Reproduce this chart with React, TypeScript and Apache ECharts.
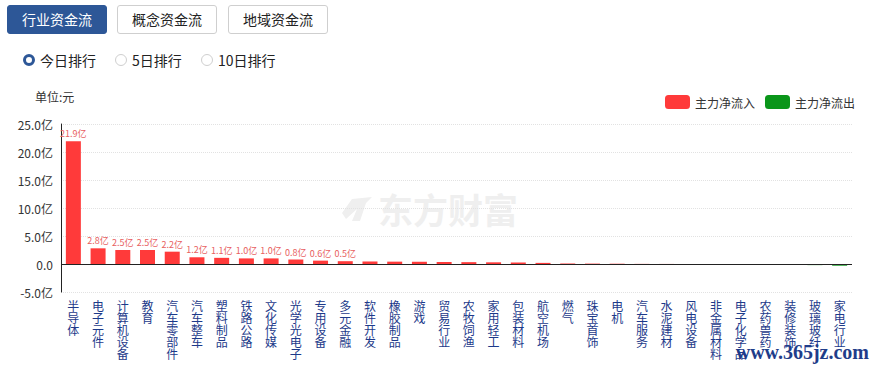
import React, { useEffect, useRef } from "react";
import * as echarts from "echarts";

const categories = [
  "半导体", "电子元件", "计算机设备", "教育", "汽车零部件", "汽车整车", "塑料制品", "铁路公路",
  "文化传媒", "光学光电子", "专用设备", "多元金融", "软件开发", "橡胶制品", "游戏", "贸易行业",
  "农牧饲渔", "家用轻工", "包装材料", "航空机场", "燃气", "珠宝首饰", "电机", "汽车服务",
  "水泥建材", "风电设备", "非金属材料", "电子化学品", "农药兽药", "装修装饰", "玻璃玻纤", "家电行业",
];
const netFlow = [
  21.9, 2.8, 2.5, 2.5, 2.2, 1.2, 1.1, 1.0, 1.0, 0.8, 0.6, 0.5, 0.45, 0.42, 0.4, 0.36,
  0.33, 0.3, 0.27, 0.2, 0.09, 0.07, 0.05, 0.02, 0.01, -0.01, -0.02, -0.05, -0.07, -0.1, -0.2, -0.3,
];
const yTicks = { min: -5, max: 25, interval: 5 };
const tabs = ["行业资金流", "概念资金流", "地域资金流"];
const ranks = ["今日排行", "5日排行", "10日排行"];
const legendNames = ["主力净流入", "主力净流出"];

const RED = "#ff3a3a";
const GREEN = "#0a961a";
const FONT = "'Noto Sans CJK SC', 'Microsoft YaHei', sans-serif";
const CHART_TOP = 80;

function Chart() {
  const ref = useRef<HTMLDivElement>(null);
  useEffect(() => {
    if (!ref.current) return;
    const chart = echarts.init(ref.current, null, { renderer: "svg" });
    const inflow = netFlow.map((v) => (v >= 0 ? v : "-"));
    const outflow = netFlow.map((v) => (v < 0 ? v : "-"));
    const wy = 195 - CHART_TOP;
    chart.setOption({
      animation: false,
      textStyle: { fontFamily: FONT },
      legend: {
        right: 16,
        top: 10,
        itemWidth: 25,
        itemHeight: 14,
        itemGap: 10,
        textStyle: { fontSize: 12, color: "#333", fontFamily: FONT },
        data: legendNames,
      },
      graphic: [
        {
          type: "text",
          left: 35,
          top: 10,
          style: { text: "单位:元", fontSize: 12, fill: "#333", fontFamily: FONT },
        },
        {
          type: "polygon",
          z: -1,
          shape: {
            points: [
              [352, wy + 4], [372, wy + 2], [366, wy + 8], [360, wy + 26], [352, wy + 26],
              [357, wy + 14], [346, wy + 24], [342, wy + 18],
            ],
          },
          style: { fill: "#efefef" },
        },
        {
          type: "text",
          x: 378,
          y: wy - 4,
          z: -1,
          style: { text: "东方财富", fontSize: 35, fontWeight: "bold", fill: "#efefef", fontFamily: FONT },
        },
        {
          type: "text",
          right: 7,
          top: 262,
          style: {
            text: "www.365jz.com",
            fontSize: 20,
            fontWeight: "bold",
            fill: "#1f3d8a",
            fontFamily: "'Liberation Serif', 'DejaVu Serif', serif",
          },
        },
      ],
      grid: { left: 61, right: 24, top: 44, bottom: 76 },
      xAxis: {
        type: "category",
        data: categories,
        axisLine: { show: false, onZero: false },
        axisTick: { show: false },
        axisLabel: {
          interval: 0,
          margin: 7,
          color: "#1d3a8a",
          fontSize: 12,
          lineHeight: 12,
          verticalAlign: "top",
          formatter: (v: string) => v.split("").join("\n"),
        },
      },
      yAxis: {
        type: "value",
        min: yTicks.min,
        max: yTicks.max,
        interval: yTicks.interval,
        axisLine: { show: true, lineStyle: { color: "#222" } },
        axisTick: { show: false },
        axisLabel: {
          color: "#333",
          fontSize: 12,
          margin: 8,
          formatter: (v: number) => (v === 0 ? "0.0" : v.toFixed(1) + "亿"),
        },
        splitLine: { show: true, lineStyle: { color: "#e2e2e2", type: "dotted" } },
      },
      series: [
        {
          name: legendNames[0],
          type: "bar",
          stack: "flow",
          data: inflow,
          barWidth: 15,
          itemStyle: { color: RED },
          label: {
            show: true,
            position: "top",
            fontSize: 9,
            color: "#e86060",
            distance: 3,
            formatter: (p: any) => (p.value >= 0.5 ? Number(p.value).toFixed(1) + "亿" : ""),
          },
          markLine: {
            silent: true,
            symbol: "none",
            label: { show: false },
            lineStyle: { color: "#222", type: "solid", width: 1 },
            data: [{ yAxis: 0 }],
          },
        },
        {
          name: legendNames[1],
          type: "bar",
          stack: "flow",
          data: outflow,
          barWidth: 15,
          itemStyle: { color: GREEN },
        },
      ],
    });
    return () => chart.dispose();
  }, []);
  return <div ref={ref} style={{ position: "absolute", left: 0, top: CHART_TOP, width: 876, height: 368 - CHART_TOP }} />;
}

export default function App() {
  return (
    <div
      style={{
        position: "fixed",
        left: 0,
        top: 0,
        width: 876,
        height: 368,
        background: "#fff",
        fontFamily: FONT,
        overflow: "hidden",
      }}
    >
      {tabs.map((t, i) => (
        <div
          key={t}
          style={{
            position: "absolute",
            left: [7, 117, 228][i],
            top: 5,
            width: 100,
            height: 29,
            boxSizing: "border-box",
            borderRadius: 3,
            border: i === 0 ? "1px solid #2d5797" : "1px solid #cfcfcf",
            background: i === 0 ? "#2d5797" : "#fff",
            color: i === 0 ? "#fff" : "#222",
            fontSize: 14,
            lineHeight: "27px",
            textAlign: "center",
          }}
        >
          {t}
        </div>
      ))}
      {ranks.map((r, i) => {
        const x = [23, 115, 201][i];
        return (
          <div key={r} style={{ position: "absolute", left: x, top: 51, height: 18, display: "flex", alignItems: "center" }}>
            <div
              style={{
                width: 12,
                height: 12,
                boxSizing: "border-box",
                borderRadius: "50%",
                border: i === 0 ? "3.5px solid #2d5797" : "1px solid #cfcfcf",
                background: "#fff",
              }}
            />
            <span style={{ marginLeft: 5, fontSize: 14, color: "#222" }}>{r}</span>
          </div>
        );
      })}
      <Chart />
    </div>
  );
}
